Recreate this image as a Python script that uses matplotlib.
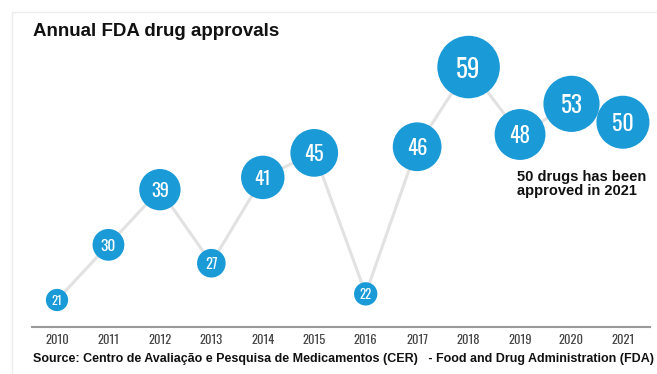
import matplotlib
matplotlib.use("Agg")
import matplotlib.pyplot as plt
from matplotlib.lines import Line2D
from matplotlib import font_manager as fm

years = [2010, 2011, 2012, 2013, 2014, 2015, 2016, 2017, 2018, 2019, 2020, 2021]
approvals = [21, 30, 39, 27, 41, 45, 22, 46, 59, 48, 53, 50]
year_labels = [str(y) for y in years]
title = "Annual FDA drug approvals"
note = "50 drugs has been\napproved in 2021"
source = "Source: Centro de Avaliação e Pesquisa de Medicamentos (CER)   - Food and Drug Administration (FDA)"

available = {f.name for f in fm.fontManager.ttflist}


def pick(cands):
    for c in cands:
        if c in available:
            return [c, "DejaVu Sans"]
    return ["DejaVu Sans"]


narrow = pick(["Oswald", "Roboto Condensed", "Archivo Narrow", "PT Sans Narrow",
               "Open Sans Condensed", "Liberation Sans Narrow", "DejaVu Sans"])
arial = pick(["Arimo", "Liberation Sans", "Arial", "Roboto"])

W, H = 657, 374
fig = plt.figure(figsize=(W / 100, H / 100), dpi=100)
fig.patch.set_facecolor("white")
ax = fig.add_axes([0, 0, 1, 1])
ax.set_xlim(2008.892, 2021.662)
ax.set_ylim(8.93, 69.94)
ax.axis("off")

blue = "#1a9bd7"

# faint frame
fig.add_artist(Line2D([12 / W, 1], [1 - 12 / H, 1 - 12 / H], color="#ececec", lw=1))
fig.add_artist(Line2D([12 / W, 12 / W], [0, 1 - 12 / H], color="#ececec", lw=1))

# connecting line
ax.plot(years, approvals, color="#e2e2e2", lw=2.2, zorder=1, solid_capstyle="round")

# bubbles
sizes = [(2 * 0.53 * v * 0.72) ** 2 for v in approvals]
ax.scatter(years, approvals, s=sizes, color=blue, edgecolors="none", zorder=2)
for x, v in zip(years, approvals):
    ax.text(x, v, str(v), ha="center", va="center_baseline", color="white",
            fontsize=4 + 0.237 * v, fontweight="bold", family=narrow, zorder=3)

# bottom axis line
fig.add_artist(Line2D([32 / W, 650 / W], [1 - 327 / H, 1 - 327 / H], color="#9a9a9a", lw=1.5))
for x, lab in zip(years, year_labels):
    ax.annotate(lab, xy=(x, 0), xycoords=("data", "figure fraction"),
                xytext=(0, (H - 340.5) * 0.72), textcoords="offset points",
                ha="center", va="center", fontsize=9, fontweight=300,
                color="#444444", family=narrow)

fig.text(33 / W, 1 - 32 / H, title, fontsize=13.5, fontweight="bold", family=arial,
         color="#111111", va="center", ha="left")
fig.text(517 / W, 1 - 184 / H, note, fontsize=10.5, fontweight="bold", family=arial,
         color="#111111", va="center", ha="left", linespacing=1.05)
fig.text(33 / W, 1 - 359 / H, source, fontsize=9, fontweight="bold", family=arial,
         color="#111111", va="center", ha="left")

fig.savefig("out.png", dpi=100, facecolor="white")
